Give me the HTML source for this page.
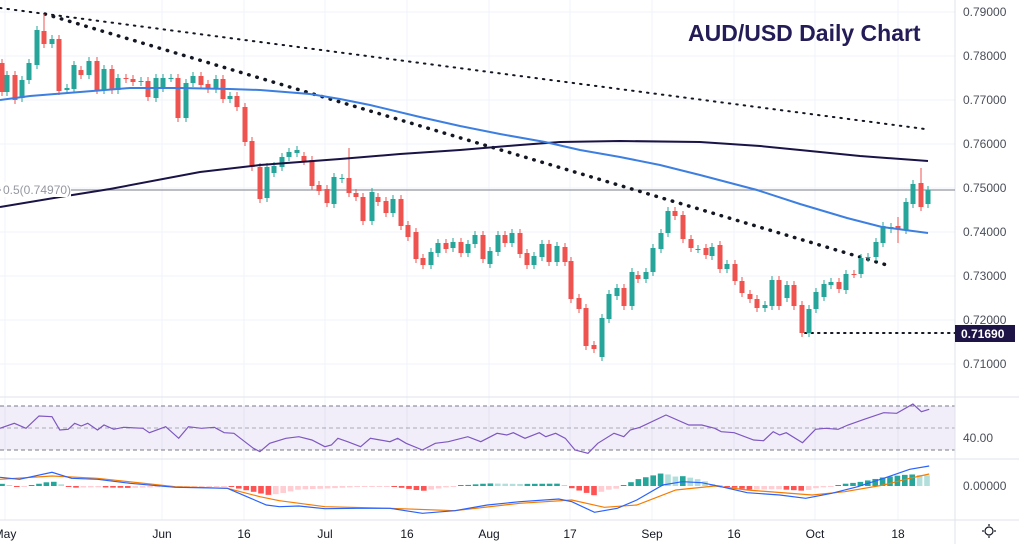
<!DOCTYPE html>
<html><head><meta charset="utf-8"><style>
html,body{margin:0;padding:0;background:#fff;}
svg{display:block;font-family:"Liberation Sans",sans-serif;}
</style></head><body>
<svg id="s" width="1019" height="544" viewBox="0 0 1019 544" xmlns="http://www.w3.org/2000/svg">
<rect width="1019" height="544" fill="#fff"/>
<g id="grid" stroke="#f0f3fa" stroke-width="1"></g>
<rect x="0" y="406" width="955" height="44" fill="#7e57c2" fill-opacity="0.1"/>
<line x1="0" y1="406" x2="955" y2="406" stroke="#787b86" stroke-dasharray="4,3"/>
<line x1="0" y1="428" x2="955" y2="428" stroke="#787b86" stroke-dasharray="4,3" stroke-opacity="0.6"/>
<line x1="0" y1="450" x2="955" y2="450" stroke="#787b86" stroke-dasharray="4,3"/>
<line x1="0" y1="397" x2="1019" y2="397" stroke="#e0e3eb"/>
<line x1="0" y1="459" x2="1019" y2="459" stroke="#e0e3eb"/>
<line x1="0" y1="520" x2="1019" y2="520" stroke="#e0e3eb"/>
<line x1="955" y1="0" x2="955" y2="544" stroke="#e0e3eb"/>
<line x1="0" y1="190" x2="955" y2="190" stroke="#9598a1" stroke-width="1.2"/>
<g id="plot"></g>
<rect x="1" y="182" width="70" height="15" fill="#fff"/>
<text x="3" y="194" font-size="12" fill="#9598a1">0.5(0.74970)</text>
<text x="688" y="41" font-size="23" font-weight="bold" fill="#231c57">AUD/USD Daily Chart</text>
<g font-size="12" fill="#4a4e59">
<text x="963" y="16">0.79000</text>
<text x="963" y="60">0.78000</text>
<text x="963" y="104">0.77000</text>
<text x="963" y="148">0.76000</text>
<text x="963" y="192">0.75000</text>
<text x="963" y="236">0.74000</text>
<text x="963" y="280">0.73000</text>
<text x="963" y="324">0.72000</text>
<text x="963" y="368">0.71000</text>
<text x="963" y="442">40.00</text>
<text x="963" y="490">0.00000</text>
</g>
<rect x="955" y="325" width="60" height="17" fill="#1e1446"/>
<text x="961" y="338" font-size="12" font-weight="bold" fill="#fff">0.71690</text>
<g font-size="12" fill="#131722" text-anchor="middle">
<text x="5" y="538">May</text>
<text x="162" y="538">Jun</text>
<text x="244" y="538">16</text>
<text x="325" y="538">Jul</text>
<text x="407" y="538">16</text>
<text x="489" y="538">Aug</text>
<text x="570" y="538">17</text>
<text x="652" y="538">Sep</text>
<text x="734" y="538">16</text>
<text x="815" y="538">Oct</text>
<text x="898" y="538">18</text>
</g>
<g transform="translate(989,531)" stroke="#131722" fill="none" stroke-width="1.2">
<circle r="4"/>
<line x1="0" y1="-7" x2="0" y2="-5"/><line x1="0" y1="5" x2="0" y2="7"/>
<line x1="-7" y1="0" x2="-5" y2="0"/><line x1="5" y1="0" x2="7" y2="0"/>
</g>
</svg>
<script>
var NS="http://www.w3.org/2000/svg";
function el(p,t,a){var e=document.createElementNS(NS,t);for(var k in a)e.setAttribute(k,a[k]);p.appendChild(e);return e;}
var grid=document.getElementById('grid'),plot=document.getElementById('plot');
[5,162,244,325,407,489,570,652,734,815,898].forEach(function(x){el(grid,'line',{x1:x,y1:0,x2:x,y2:520});});
[12,56,100,144,188,232,276,320,364].forEach(function(y){el(grid,'line',{x1:0,y1:y,x2:955,y2:y});});
function pl(pts,attrs){el(plot,'polyline',Object.assign({points:pts.map(function(p){return p[0]+','+p[1];}).join(' '),fill:'none'},attrs));}
el(plot,'line',{x1:0,y1:8,x2:925,y2:129,stroke:'#131722','stroke-width':2,'stroke-dasharray':'1.5,6','stroke-linecap':'round'});
el(plot,'line',{x1:45,y1:14,x2:890,y2:266,stroke:'#131722','stroke-width':3.5,'stroke-dasharray':'0.5,8','stroke-linecap':'round'});
el(plot,'line',{x1:805,y1:333,x2:955,y2:333,stroke:'#131722','stroke-width':2,'stroke-dasharray':'1.5,5','stroke-linecap':'round'});
var C="2 63 92 r|7 75 92 g|15 75 100 r|22 80 98 g|29 63 80 g|37 30 65 g|44 31 44 r 14|52 39 44 g|59 39 91 r|67 88 90 g|74 65 89 g|81 70 75 r|89 61 75 g|97 61 90 r|104 69 90 g|112 69 90 r|118 78 90 g|126 78 79 r|133 79 82 r|141 81 82 g|148 81 97 r|156 78 98 g|163 78 88 g|171 78 78 g|178 78 118 r|186 83 118 g|193 76 83 g|201 76 85 r|208 84 89 r|216 79 89 g|223 79 99 r|230 96 99 g|237 96 107 r|245 107 142 r|252 141 167 r|260 167 199 r|267 167 198 g|274 166 173 g|282 157 167 g|289 152 157 g|297 150 153 g|304 156 161 r|312 160 186 r|319 185 191 r|327 189 203 r|334 177 204 g|342 178 179 g|349 178 193 r 148|356 193 197 r|363 197 221 r|372 192 221 g|378 197 202 r|386 201 213 r|393 199 213 g|401 199 226 r|408 225 237 r|416 232 259 r|423 258 265 r|431 252 265 g|438 243 253 g|446 243 249 r|453 242 248 g|461 242 253 r|468 244 253 g|475 235 244 g|483 235 259 r|490 251 264 g|498 235 252 g|505 235 243 r|512 233 243 g|520 233 254 r|527 253 265 r|534 256 265 g|542 244 257 g|549 244 262 r|557 246 262 g|565 247 262 r|571 261 299 r|579 298 309 r|586 308 346 r|594 345 349 r|602 318 357 g|609 294 319 g|617 288 296 g|624 288 306 r|632 272 306 g|638 275 279 r|646 272 279 g|653 248 272 g|661 233 249 g|668 211 233 g|675 211 216 r|683 215 239 r|691 239 248 r|698 249 249 g|706 248 255 r|712 247 256 g|720 245 269 r|727 264 269 g|735 264 281 r|742 281 293 r|750 294 299 r|757 299 308 r|765 305 308 g|772 280 306 g|779 280 306 r|787 285 298 g|794 285 306 r|802 305 333 r|809 309 333 g|816 292 309 g|824 284 297 g|831 282 285 g|839 282 289 r|846 274 290 g|854 274 274 r|861 258 274 g|868 257 258 g|876 242 257 g|883 226 243 g|891 227 229 g|898 226 229 r 217 243|906 202 230 g|913 184 204 g|921 183 207 r 168|928 190 204 g";
C.split('|').forEach(function(s){var a=s.split(' ');var x=+a[0],t=+a[1],b=+a[2],c=a[3]=='g'?'#26a69a':'#ef5350';
var hi=a[4]?+a[4]:t-4,lo=a[5]?+a[5]:b+4;
el(plot,'line',{x1:x,y1:hi,x2:x,y2:lo,stroke:c,'stroke-width':1});
el(plot,'rect',{x:x-2.5,y:t,width:5,height:Math.max(1,b-t),fill:c});});
pl([[0,207],[60,197],[110,189],[200,172],[260,165],[340,159],[400,154],[460,150],[520,145],[560,142],[620,141],[700,142],[760,146],[800,150],[860,156],[928,161]],{stroke:'#1a1446','stroke-width':2});
pl([[0,100],[30,96],[80,92],[130,88],[180,88],[230,89],[260,90],[310,94],[340,99],[370,105],[420,117],[460,126],[500,134],[545,142],[580,150],[620,157],[660,165],[700,175],[757,190],[800,204],[847,218],[882,227],[928,233]],{stroke:'#3d7fe0','stroke-width':2});
var R=[[0,115],[22,100],[40,115],[60,78],[80,80],[92,120],[105,118],[115,100],[125,108],[135,100],[150,120],[160,105],[175,118],[190,112],[220,115],[230,128],[255,110],[275,145],[290,110],[310,115],[330,112],[345,128],[360,130],[390,175],[400,185],[415,160],[440,145],[460,140],[480,150],[500,170],[510,165],[520,145],[535,155],[555,170],[570,145],[585,150],[600,155],[612,145],[625,160],[650,180],[670,160],[690,155],[720,140],[740,155],[765,130],[780,135],[790,128],[808,145],[830,128],[840,140],[855,130],[870,145],[885,180],[905,190],[920,160],[945,130],[960,140],[970,120],[985,112],[1025,75],[1060,105],[1080,105],[1100,115],[1110,125],[1130,128],[1160,150],[1175,152],[1190,125],[1200,135],[1210,128],[1235,158],[1255,118],[1270,115],[1290,118],[1305,105],[1330,88],[1360,68],[1380,70],[1405,42],[1418,65],[1430,58]];
function cv(a){return a.map(function(p){return [+(p[0]/1.539).toFixed(1),+(p[1]/3+390).toFixed(1)];});}
pl(cv(R),{stroke:'#7e57c2','stroke-width':1.2});
var M=cv([[0,262],[30,268],[80,247],[110,265],[150,268],[200,280],[270,292],[350,295],[380,320],[410,345],[430,350],[460,348],[500,356],[550,355],[600,355],[650,370],[700,362],[750,345],[800,335],[860,327],[880,335],[915,367],[950,355],[980,330],[1020,285],[1050,275],[1080,278],[1110,290],[1150,308],[1200,315],[1240,325],[1280,310],[1320,290],[1360,265],[1400,238],[1430,228]]);
var S=cv([[0,268],[80,258],[150,265],[270,290],[350,295],[400,320],[430,332],[500,350],[600,355],[700,362],[800,340],[880,330],[930,352],[980,345],[1040,300],[1100,288],[1150,300],[1250,315],[1300,305],[1360,285],[1400,265],[1430,252]]);
function interp(a,x){if(x<=a[0][0])return a[0][1];for(var i=1;i<a.length;i++){if(x<=a[i][0]){var t=(x-a[i-1][0])/(a[i][0]-a[i-1][0]);return a[i-1][1]+t*(a[i][1]-a[i-1][1]);}}return a[a.length-1][1];}
var prev=0;
for(var x=2;x<=930;x+=7.4){var d=(interp(S,x)-interp(M,x))*1.3;var c;
if(d>=0)c=d>=prev?'#26a69a':'#b2dfdb';else c=d<prev?'#ff5252':'#ffcdd2';prev=d;
var h=Math.max(1,Math.abs(d));el(plot,'rect',{x:x-2.8,y:d>=0?486-h:486,width:5.6,height:h,fill:c});}
pl(S,{stroke:'#f57c00','stroke-width':1.2});
pl(M,{stroke:'#2962ff','stroke-width':1.2});
</script>
</body></html>
